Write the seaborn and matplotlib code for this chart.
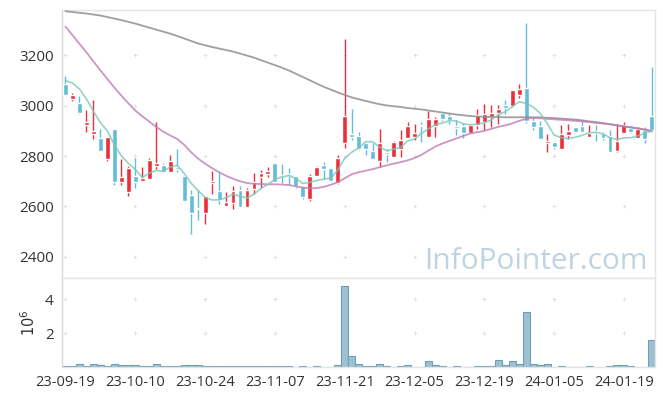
import numpy as np
import pandas as pd
import matplotlib
matplotlib.use('Agg')
import matplotlib.pyplot as plt
import seaborn as sns

# daily OHLC (trading days 23-09-19 .. 24-01-25)
opens = [3088, 3026, 3009, 2923, 2888, 2870, 2787, 2906, 2697, 2658,
         2720, 2701, 2709, 2760, 2764, 2737, 2756, 2721, 2645, 2593,
         2575, 2693, 2662, 2603, 2614, 2665, 2598, 2668, 2717, 2728,
         2771, 2722, 2725, 2721, 2683, 2628, 2720, 2763, 2753, 2694,
         2852, 2886, 2880, 2852, 2819, 2779, 2817, 2797, 2830, 2872,
         2876, 2925, 2876, 2920, 2971, 2958, 2918, 2918, 2892, 2925,
         2935, 2955, 2971, 3001, 2998, 3044, 3070, 2938, 2919, 2850,
         2854, 2830, 2882, 2915, 2919, 2876, 2899, 2893, 2879, 2820,
         2892, 2912, 2873, 2902, 2958]
closes = [3044, 3041, 2972, 2934, 2898, 2820, 2874, 2697, 2716, 2752,
          2697, 2713, 2783, 2771, 2735, 2779, 2750, 2622, 2575, 2590,
          2641, 2701, 2624, 2617, 2662, 2598, 2667, 2699, 2733, 2740,
          2697, 2719, 2722, 2680, 2638, 2720, 2757, 2749, 2701, 2792,
          2958, 2876, 2830, 2830, 2790, 2852, 2810, 2855, 2865, 2918,
          2892, 2920, 2948, 2946, 2949, 2942, 2912, 2892, 2925, 2964,
          2967, 2973, 2988, 2991, 3061, 3067, 2938, 2916, 2869, 2859,
          2836, 2886, 2898, 2895, 2895, 2893, 2890, 2870, 2817, 2859,
          2925, 2895, 2906, 2869, 2902]
highs = [3117, 3051, 3038, 2984, 3024, 2909, 2877, 2906, 2790, 2761,
         2793, 2757, 2793, 2935, 2774, 2803, 2827, 2721, 2665, 2665,
         2641, 2739, 2737, 2657, 2682, 2680, 2675, 2733, 2744, 2758,
         2771, 2767, 2752, 2721, 2683, 2728, 2760, 2777, 2753, 2806,
         3265, 2988, 2895, 2852, 2850, 2909, 2830, 2860, 2905, 2935,
         2929, 2935, 2979, 2955, 2975, 2971, 2945, 2931, 2927, 2985,
         3005, 3001, 3004, 3024, 3063, 3087, 3329, 2955, 2939, 2889,
         2860, 2925, 2929, 2917, 2942, 2925, 2925, 2895, 2902, 2929,
         2935, 2920, 2915, 2915, 3153]
lows = [3041, 3020, 2967, 2897, 2869, 2820, 2781, 2687, 2687, 2640,
        2675, 2701, 2709, 2750, 2731, 2737, 2737, 2622, 2490, 2548,
        2530, 2649, 2608, 2601, 2588, 2598, 2598, 2651, 2675, 2716,
        2697, 2694, 2687, 2672, 2630, 2620, 2720, 2711, 2698, 2691,
        2834, 2865, 2826, 2803, 2790, 2757, 2777, 2797, 2797, 2872,
        2862, 2856, 2876, 2876, 2940, 2926, 2885, 2873, 2890, 2909,
        2902, 2915, 2926, 2966, 2996, 3032, 2933, 2902, 2869, 2816,
        2830, 2827, 2867, 2893, 2895, 2876, 2859, 2865, 2816, 2818,
        2890, 2893, 2870, 2850, 2898]
# volume in millions of shares
volume = [0.04, 0.04, 0.16, 0.06, 0.16, 0.10, 0.05, 0.16, 0.10, 0.10,
          0.10, 0.04, 0.04, 0.16, 0.04, 0.04, 0.04, 0.10, 0.10, 0.10,
          0.04, 0.04, 0.04, 0.04, 0.04, 0.04, 0.04, 0.04, 0.04, 0.04,
          0.04, 0.04, 0.04, 0.00, 0.04, 0.00, 0.04, 0.00, 0.00, 0.10,
          4.75, 0.63, 0.20, 0.08, 0.08, 0.20, 0.08, 0.02, 0.08, 0.14,
          0.02, 0.02, 0.33, 0.14, 0.08, 0.02, 0.08, 0.02, 0.02, 0.08,
          0.08, 0.08, 0.39, 0.14, 0.33, 0.20, 3.25, 0.20, 0.14, 0.20,
          0.02, 0.08, 0.02, 0.02, 0.02, 0.08, 0.02, 0.02, 0.08, 0.14,
          0.14, 0.08, 0.02, 0.02, 1.57]
# closes of the four sessions before the window (for the 5-day average)
prior_closes = [3090, 3090, 3130, 3145]
# 20- and 60-day averages as drawn (they need history outside the window)
ma20 = [3314, 3280, 3246, 3212, 3176, 3140, 3106, 3072, 3040, 3010,
        2981, 2958, 2937, 2916, 2897, 2882, 2868, 2845, 2815, 2790,
        2770, 2752, 2736, 2722, 2710, 2700, 2693, 2690, 2689, 2688,
        2688, 2687, 2685, 2680, 2675, 2672, 2673, 2678, 2686, 2696,
        2712, 2728, 2736, 2742, 2748, 2756, 2763, 2770, 2776, 2783,
        2792, 2805, 2822, 2838, 2850, 2860, 2870, 2880, 2890, 2895,
        2900, 2908, 2916, 2922, 2930, 2940, 2948, 2952, 2950, 2948,
        2946, 2944, 2942, 2940, 2938, 2935, 2932, 2929, 2926, 2922,
        2918, 2914, 2910, 2905, 2899]
ma60 = [3375, 3372, 3369, 3366, 3362, 3358, 3352, 3346, 3340, 3333,
        3326, 3318, 3310, 3302, 3294, 3286, 3277, 3267, 3257, 3247,
        3240, 3233, 3227, 3221, 3215, 3207, 3199, 3191, 3181, 3171,
        3161, 3151, 3140, 3127, 3114, 3101, 3088, 3075, 3064, 3053,
        3043, 3033, 3026, 3019, 3012, 3006, 3001, 2998, 2995, 2991,
        2988, 2985, 2981, 2977, 2973, 2969, 2965, 2962, 2959, 2957,
        2956, 2955, 2955, 2954, 2954, 2954, 2954, 2954, 2954, 2952,
        2951, 2949, 2947, 2945, 2942, 2938, 2935, 2931, 2927, 2922,
        2918, 2914, 2910, 2905, 2899]
tick_pos = [0, 10, 20, 30, 40, 50, 60, 70, 80]
tick_labels = ['23-09-19', '23-10-10', '23-10-24', '23-11-07', '23-11-21',
               '23-12-05', '23-12-19', '24-01-05', '24-01-19']
price_ticks = [2400, 2600, 2800, 3000, 3200]
vol_ticks = [2, 4]

sns.set_style('white')
plt.rcParams['font.family'] = ['Open Sans', 'DejaVu Sans']

RED = '#ec2f38'
BLUE = '#62bdd7'

idx = np.arange(len(closes))
o = np.array(opens, dtype=float)
c = np.array(closes, dtype=float)
ma5 = pd.Series(prior_closes + closes).rolling(5).mean().iloc[len(prior_closes):].values

fig = plt.figure(figsize=(6.65, 3.96), dpi=100)
ax = fig.add_axes([62 / 665, 1 - 278 / 396, 593 / 665, 268 / 396])
ax2 = fig.add_axes([62 / 665, 1 - 367 / 396, 593 / 665, 89 / 396])

# faint crosses at the grid intersections
gx, gy = np.meshgrid(tick_pos, price_ticks)
ax.scatter(gx.ravel(), gy.ravel(), marker='+', s=12, color='#e2e2e2', lw=0.7, zorder=0)
gx2, gy2 = np.meshgrid(tick_pos, vol_ticks)
ax2.scatter(gx2.ravel(), gy2.ravel(), marker='+', s=12, color='#e2e2e2', lw=0.7, zorder=0)

# candles
colors = np.where(c >= o, RED, BLUE)
ax.vlines(idx, lows, highs, colors=colors, lw=1, zorder=2)
body = np.maximum(np.abs(c - o), 5)
ax.bar(idx, body, bottom=np.minimum(o, c), width=0.7, color=colors, zorder=3)

# moving averages
sns.lineplot(x=idx, y=ma60, color='#8f8f8f', lw=1.3, alpha=0.85, ax=ax, zorder=4)
sns.lineplot(x=idx, y=ma20, color='#c27bb6', lw=1.3, alpha=0.8, ax=ax, zorder=4)
sns.lineplot(x=idx, y=ma5, color='#7dc7b8', lw=1.2, alpha=0.8, ax=ax, zorder=4)

ax.text(0.988, 0.035, 'InfoPointer.com', transform=ax.transAxes, ha='right',
        va='baseline', fontsize=21.5, color='#bfd4e1', zorder=1)

ax.set_xlim(-0.5, 84.45)
ax.set_ylim(2316, 3380)
ax.set_yticks(price_ticks)
ax.set_xticks(tick_pos)
ax.set_xticklabels([])
ax.set_ylabel('')

# volume
vdf = pd.DataFrame({'i': idx, 'v': volume})
sns.barplot(data=vdf, x='i', y='v', native_scale=True, width=1.0, color='#9dc1d2',
            edgecolor='#6e9fb6', linewidth=0.8, saturation=1, ax=ax2)
ax2.set_xlim(-0.5, 84.45)
ax2.set_ylim(0, 5.24)
ax2.set_yticks(vol_ticks)
ax2.set_yticklabels(['2', '4'])
ax2.set_xticks(tick_pos)
ax2.set_xticklabels(tick_labels)
ax2.set_xlabel('')
ax2.set_ylabel('$10^6$', fontsize=10.5, color='#333333', labelpad=4)

for a in (ax, ax2):
    a.tick_params(length=0, labelsize=11, labelcolor='#333333', pad=6)
    for s in a.spines.values():
        s.set_color('#e4e4e4')
        s.set_linewidth(1)
    a.spines['left'].set_color('#d9d9d9')
ax2.tick_params(axis='x', labelsize=10.5)

fig.savefig('out.png', dpi=100)
plt.close(fig)
